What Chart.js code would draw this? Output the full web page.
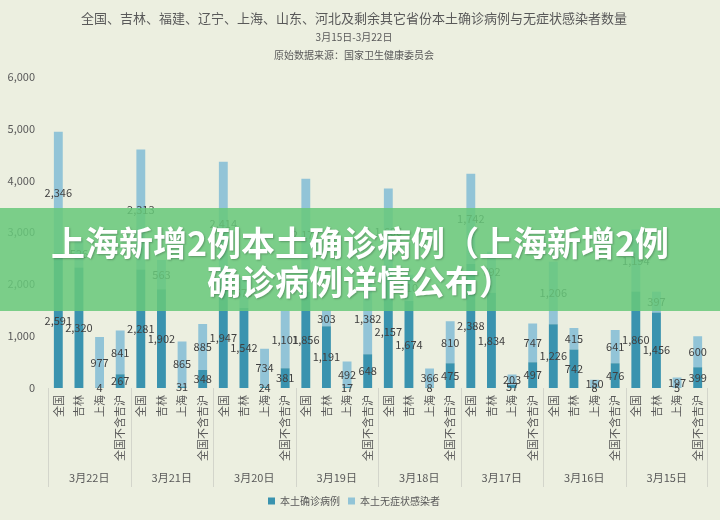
<!DOCTYPE html>
<html>
<head>
<meta charset="utf-8">
<script src="https://cdn.jsdelivr.net/npm/chart.js@4/dist/chart.umd.min.js"></script>
<style>
  html, body { margin: 0; padding: 0; background: #ECEFE0; }
  #wrap { position: relative; width: 720px; height: 520px; }
  #c { position: absolute; left: 0; top: 0; }
  #banner {
    position: absolute; left: 0; top: 208px; width: 720px; height: 103px;
    background: rgba(104, 200, 122, 0.86);
    color: #fff; text-align: center; box-sizing: border-box; padding-top: 14px;
    font-family: "Noto Sans CJK SC", sans-serif; font-weight: 700; font-size: 34px; line-height: 39px;
    text-shadow: 1px 1px 2px rgba(0,0,0,0.25);
  }
</style>
</head>
<body>
<div id="wrap">
  <canvas id="c" width="720" height="520"></canvas>
  <div id="banner">上海新增2例本土确诊病例（上海新增2例<br>确诊病例详情公布）</div>
</div>
<script>
// ---- data ----
const dates = ['3月22日','3月21日','3月20日','3月19日','3月18日','3月17日','3月16日','3月15日'];
const regions = ['全国','吉林','上海','全国不含吉沪'];
const confirmedAll      = [2591, 2281, 1947, 1856, 2157, 2388, 1226, 1860];
const confirmedJilin    = [2320, 1902, 1542, 1191, 1674, 1834,  742, 1456];
const confirmedShanghai = [   4,   31,   24,   17,    8,   57,    8,    5];
const confirmedOther    = [ 267,  348,  381,  648,  475,  497,  476,  399];
const asymAll           = [2346, 2313, 2414, 2177, 1686, 1742, 1206, 1194];
const asymJilin         = [ 526,  563,  579,  303,  510,  792,  415,  397];
const asymShanghai      = [ 977,  865,  734,  492,  366,  203,  150,  197];
const asymOther         = [ 841,  885, 1101, 1382,  810,  747,  641,  600];
const yTicks = [0, 1000, 2000, 3000, 4000, 5000, 6000];
const seriesNames = ['本土确诊病例', '本土无症状感染者'];
const titleText = '全国、吉林、福建、辽宁、上海、山东、河北及剩余其它省份本土确诊病例与无症状感染者数量';
const subtitleLines = ['3月15日-3月22日', '原始数据来源：国家卫生健康委员会'];

// ---- build flat category table ----
const confirmedByRegion = [confirmedAll, confirmedJilin, confirmedShanghai, confirmedOther];
const asymByRegion = [asymAll, asymJilin, asymShanghai, asymOther];
const labels = [], confirmed = [], asym = [];
dates.forEach((d, di) => {
  regions.forEach((r, ri) => {
    labels.push(r);
    confirmed.push(confirmedByRegion[ri][di]);
    asym.push(asymByRegion[ri][di]);
  });
});

const FONT = '"Noto Sans CJK SC", "Noto Sans", sans-serif';
const GRAY = '#595959';
const fmt = v => v.toLocaleString('en-US');

const valueLabels = {
  id: 'valueLabels',
  afterDatasetsDraw(chart) {
    const ctx = chart.ctx;
    ctx.save();
    ctx.font = '11px ' + FONT;
    ctx.fillStyle = '#404040';
    ctx.textAlign = 'center';
    ctx.textBaseline = 'middle';
    chart.data.datasets.forEach((ds, i) => {
      const meta = chart.getDatasetMeta(i);
      meta.data.forEach((bar, j) => {
        const y = (bar.y + bar.base) / 2;
        ctx.fillText(fmt(ds.data[j]), bar.x, y);
      });
    });
    ctx.restore();
  }
};

const groupAxis = {
  id: 'groupAxis',
  afterDraw(chart) {
    const ctx = chart.ctx;
    const xs = chart.scales.x;
    const n = regions.length;
    const half = (xs.getPixelForValue(1) - xs.getPixelForValue(0)) / 2;
    const top = chart.chartArea.bottom;
    const bottom = top + 99;
    ctx.save();
    ctx.strokeStyle = '#D3D5CB';
    ctx.lineWidth = 1;
    ctx.font = '11px ' + FONT;
    ctx.fillStyle = GRAY;
    ctx.textAlign = 'center';
    ctx.textBaseline = 'middle';
    dates.forEach((d, di) => {
      const x0 = xs.getPixelForValue(di * n) - half;
      const x1 = xs.getPixelForValue(di * n + n - 1) + half;
      ctx.beginPath();
      ctx.moveTo(Math.round(x0) + 0.5, top);
      ctx.lineTo(Math.round(x0) + 0.5, bottom);
      if (di === dates.length - 1) {
        ctx.moveTo(Math.round(x1) - 0.5, top);
        ctx.lineTo(Math.round(x1) - 0.5, bottom);
      }
      ctx.stroke();
      ctx.fillText(d, (x0 + x1) / 2, top + 90);
    });
    ctx.restore();
  }
};

new Chart(document.getElementById('c'), {
  type: 'bar',
  data: {
    labels: labels,
    datasets: [
      { label: seriesNames[0], data: confirmed, backgroundColor: '#3A93AF', barPercentage: 0.43, categoryPercentage: 1 },
      { label: seriesNames[1], data: asym, backgroundColor: '#92C4D7', barPercentage: 0.43, categoryPercentage: 1 }
    ]
  },
  options: {
    responsive: false,
    animation: false,
    locale: 'en-US',
    layout: { padding: { left: 0, right: 12, top: 0, bottom: 4 } },
    plugins: {
      title: {
        display: true, text: titleText, color: GRAY,
        font: { family: FONT, size: 13, weight: 'normal', lineHeight: 1.2 },
        padding: { top: 10, bottom: 3 }
      },
      subtitle: {
        display: true, text: subtitleLines, color: GRAY,
        font: { family: FONT, size: 10, weight: 'normal', lineHeight: 1.8 },
        padding: { top: 0, bottom: 12 }
      },
      legend: {
        position: 'bottom',
        labels: { boxWidth: 7, boxHeight: 7, padding: 8, color: GRAY, font: { family: FONT, size: 10 } }
      },
      tooltip: { enabled: false }
    },
    scales: {
      x: {
        stacked: true,
        grid: { display: false, drawTicks: false },
        border: { display: false },
        ticks: {
          autoSkip: false, maxRotation: 90, minRotation: 90, padding: 7,
          color: GRAY, font: { family: FONT, size: 11 }
        },
        afterFit: s => { s.height = 100; }
      },
      y: {
        stacked: true, min: 0, max: 6000,
        afterBuildTicks: s => { s.ticks = yTicks.map(v => ({ value: v })); },
        grid: { display: false, drawTicks: false },
        border: { display: false },
        ticks: { padding: 13, color: GRAY, font: { family: FONT, size: 11 }, callback: v => fmt(v) },
        afterFit: s => { s.width = 48; }
      }
    }
  },
  plugins: [valueLabels, groupAxis]
});
</script>
</body>
</html>
